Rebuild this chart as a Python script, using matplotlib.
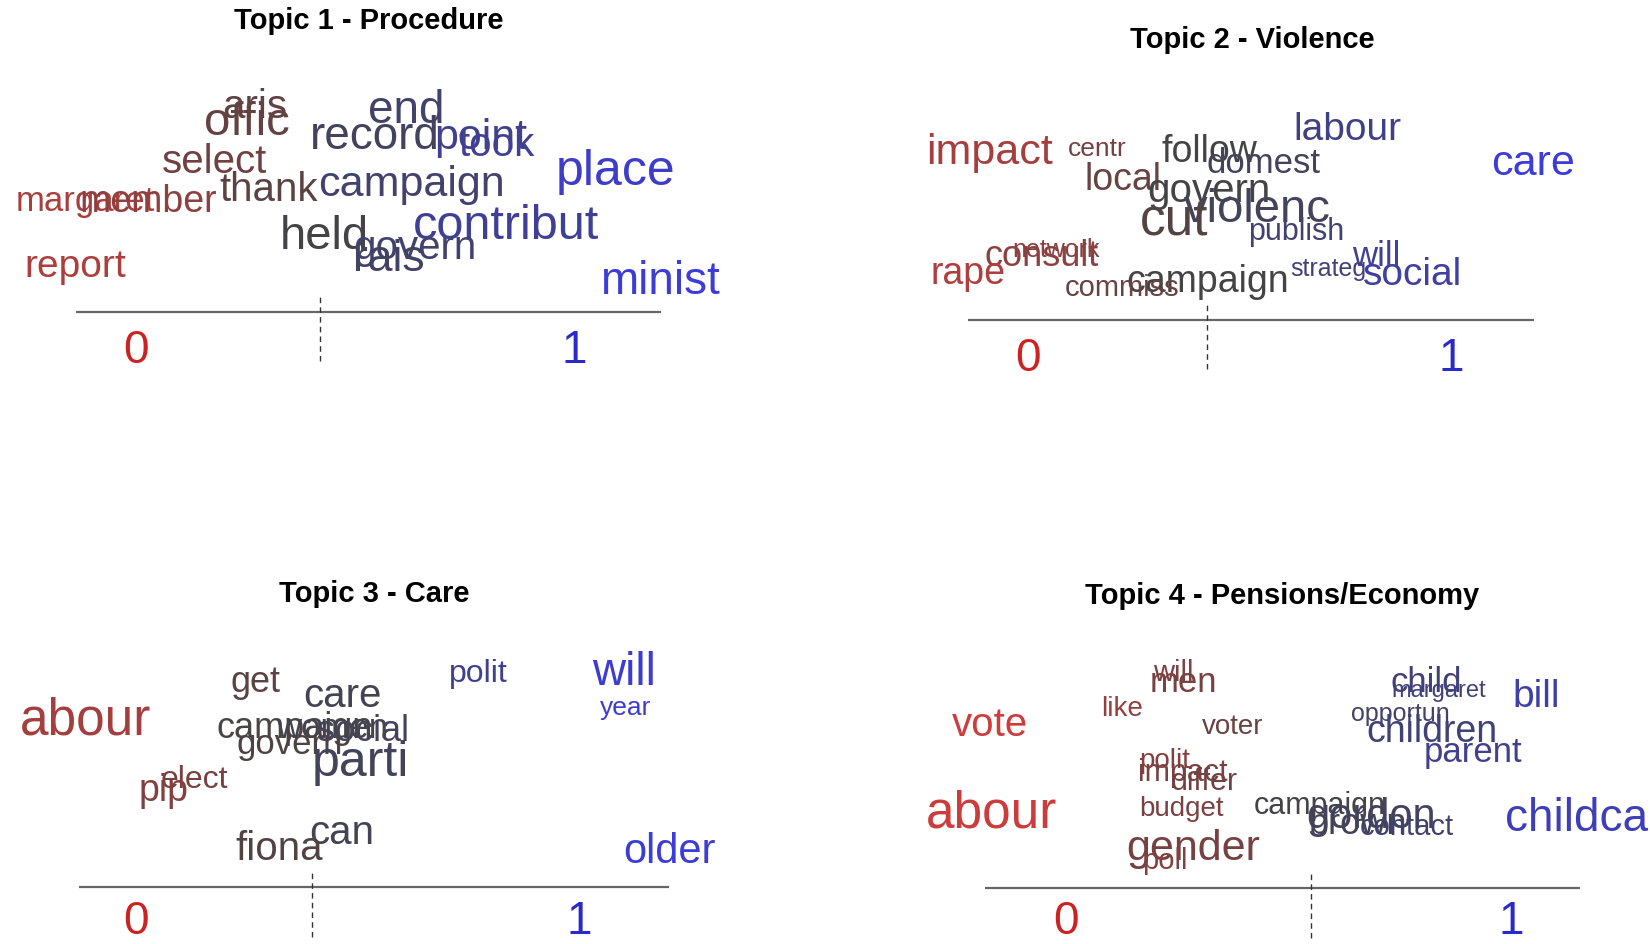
import matplotlib
matplotlib.use("Agg")
import matplotlib.pyplot as plt
from matplotlib.colors import LinearSegmentedColormap, Normalize

plt.rcParams['font.family'] = ['Liberation Sans', 'DejaVu Sans']

# Topic 1 - Procedure : mot, score (0 -> 1), hauteur, taille
words1 = ['aris', 'offic', 'select', 'margaret', 'member', 'thank', 'report',
          'end', 'record', 'point', 'took', 'campaign', 'place', 'held',
          'contribut', 'govern', 'rais', 'minist']
x1 = [0.271, 0.254, 0.180, -0.115, 0.029, 0.302, -0.137,
      0.616, 0.544, 0.787, 0.823, 0.628, 1.094, 0.429,
      0.844, 0.636, 0.576, 1.194]
y1 = [1.99, 1.84, 1.47, 1.09, 1.09, 1.20, 0.47,
      1.95, 1.70, 1.69, 1.63, 1.25, 1.37, 0.75,
      0.85, 0.65, 0.54, 0.33]
size1 = [29, 34, 29, 25, 27, 29, 28,
         33, 33, 31, 29, 31, 36, 34,
         35, 29, 32, 33]

# Topic 2 - Violence
words2 = ['impact', 'centr', 'follow', 'domest', 'labour', 'care', 'local',
          'govern', 'violenc', 'cut', 'publish', 'will', 'social', 'strateg',
          'campaign', 'commiss', 'consult', 'network', 'rape']
x2 = [-0.092, 0.164, 0.428, 0.557, 0.756, 1.194, 0.224,
      0.428, 0.542, 0.346, 0.634, 0.823, 0.908, 0.709,
      0.425, 0.221, 0.032, 0.065, -0.142]
y2 = [1.63, 1.67, 1.64, 1.53, 1.85, 1.53, 1.37,
      1.27, 1.09, 0.98, 0.88, 0.65, 0.47, 0.53,
      0.41, 0.35, 0.65, 0.71, 0.48]
size2 = [31, 19, 27, 25, 28, 31, 27,
         29, 34, 37, 22, 25, 28, 18,
         27, 21, 26, 18, 27]

# Topic 3 - Care
words3 = ['abour', 'get', 'care', 'polit', 'will', 'year', 'campaign',
          'women', 'govern', 'social', 'parti', 'elect', 'pip', 'can',
          'fiona', 'older']
x3 = [-0.114, 0.271, 0.466, 0.774, 1.102, 1.105, 0.359,
      0.442, 0.347, 0.513, 0.508, 0.133, 0.062, 0.466,
      0.323, 1.204]
y3 = [1.62, 1.99, 1.86, 2.07, 2.08, 1.75, 1.55,
      1.55, 1.40, 1.52, 1.22, 1.06, 0.96, 0.56,
      0.41, 0.38]
size3 = [37, 26, 29, 23, 33, 19, 26,
         25, 25, 26, 36, 23, 27, 29,
         29, 30]

# Topic 4 - Pensions/Economy
words4 = ['vote', 'abour', 'will', 'men', 'like', 'voter', 'polit', 'impact',
          'differ', 'budget', 'campaign', 'gordon', 'brown', 'contact',
          'gender', 'poll', 'child', 'margaret', 'opportun', 'children',
          'parent', 'bill', 'childca']
x4 = [-0.170, -0.168, 0.241, 0.265, 0.125, 0.374, 0.222, 0.262,
      0.310, 0.260, 0.570, 0.686, 0.655, 0.766,
      0.286, 0.222, 0.809, 0.837, 0.752, 0.823,
      0.915, 1.057, 1.147]
y4 = [1.60, 0.75, 2.09, 2.00, 1.75, 1.58, 1.25, 1.14,
      1.05, 0.80, 0.83, 0.72, 0.65, 0.63,
      0.42, 0.30, 2.00, 1.92, 1.70, 1.53,
      1.33, 1.86, 0.70]
size4 = [29, 37, 21, 25, 20, 20, 20, 22,
         22, 20, 22, 30, 26, 21,
         31, 21, 25, 17, 18, 27,
         25, 28, 33]

titles = ['Topic 1 - Procedure', 'Topic 2 - Violence', 'Topic 3 - Care',
          'Topic 4 - Pensions/Economy']
centres = [0.420, 0.423, 0.397, 0.551]
line_ends = [(-0.137, 1.197), (-0.142, 1.197), (-0.128, 1.204), (-0.182, 1.154)]

cmap = LinearSegmentedColormap.from_list('rouge_bleu', ['#d23c3c', '#444444', '#3c3cd8'])

W, H = 1568, 898  # coordonnées de la maquette
fig = plt.figure(figsize=(16.5, 9.45), dpi=100)


def draw_panel(box, zero_px, one_px, line_px, title, title_px,
               words, xs, ys, sizes, centre, ends, label_y):
    bx0, by0, bx1, by1 = box
    ax = fig.add_axes([bx0 / W, 1 - by1 / H, (bx1 - bx0) / W, (by1 - by0) / H])
    unit = one_px - zero_px
    ax.set_xlim((bx0 - zero_px) / unit, (bx1 - zero_px) / unit)
    ax.set_ylim((line_px - by1) / 100, (line_px - by0) / 100)
    ax.axis('off')

    norm = Normalize(centre - 0.75, centre + 0.75)
    for w, x, y, s in zip(words, xs, ys, sizes):
        # petit décalage : va='center' inclut les jambages
        ax.text(x, y - 0.035, w, fontsize=s, color=cmap(norm(x)),
                ha='center', va='center')

    ax.plot(ends, [0, 0], color='#666666', lw=1.6, solid_capstyle='butt')
    ax.plot([centre, centre], [-0.47, 0.15], color='#333333', lw=1.0,
            dashes=(4, 3))
    ax.text(0, label_y, '0', fontsize=33, color='#cc2222', ha='center', va='center')
    ax.text(1, label_y, '1', fontsize=33, color='#2a2acc', ha='center', va='center')

    ax.text((title_px[0] - zero_px) / unit, (line_px - title_px[1]) / 100, title,
            fontsize=21, fontweight='bold', ha='center', va='center')


draw_panel((0, 0, 784, 449), 129, 546, 297, titles[0], (350, 20),
           words1, x1, y1, size1, centres[0], line_ends[0], -0.37)
draw_panel((784, 0, 1568, 449), 977, 1379, 305, titles[1], (1190, 38),
           words2, x2, y2, size2, centres[1], line_ends[1], -0.36)
draw_panel((0, 449, 784, 898), 129, 550, 844, titles[2], (356, 564),
           words3, x3, y3, size3, centres[2], line_ends[2], -0.32)
draw_panel((784, 449, 1568, 898), 1013, 1436, 845, titles[3], (1218, 566),
           words4, x4, y4, size4, centres[3], line_ends[3], -0.31)

plt.savefig('out.png', dpi=100)
